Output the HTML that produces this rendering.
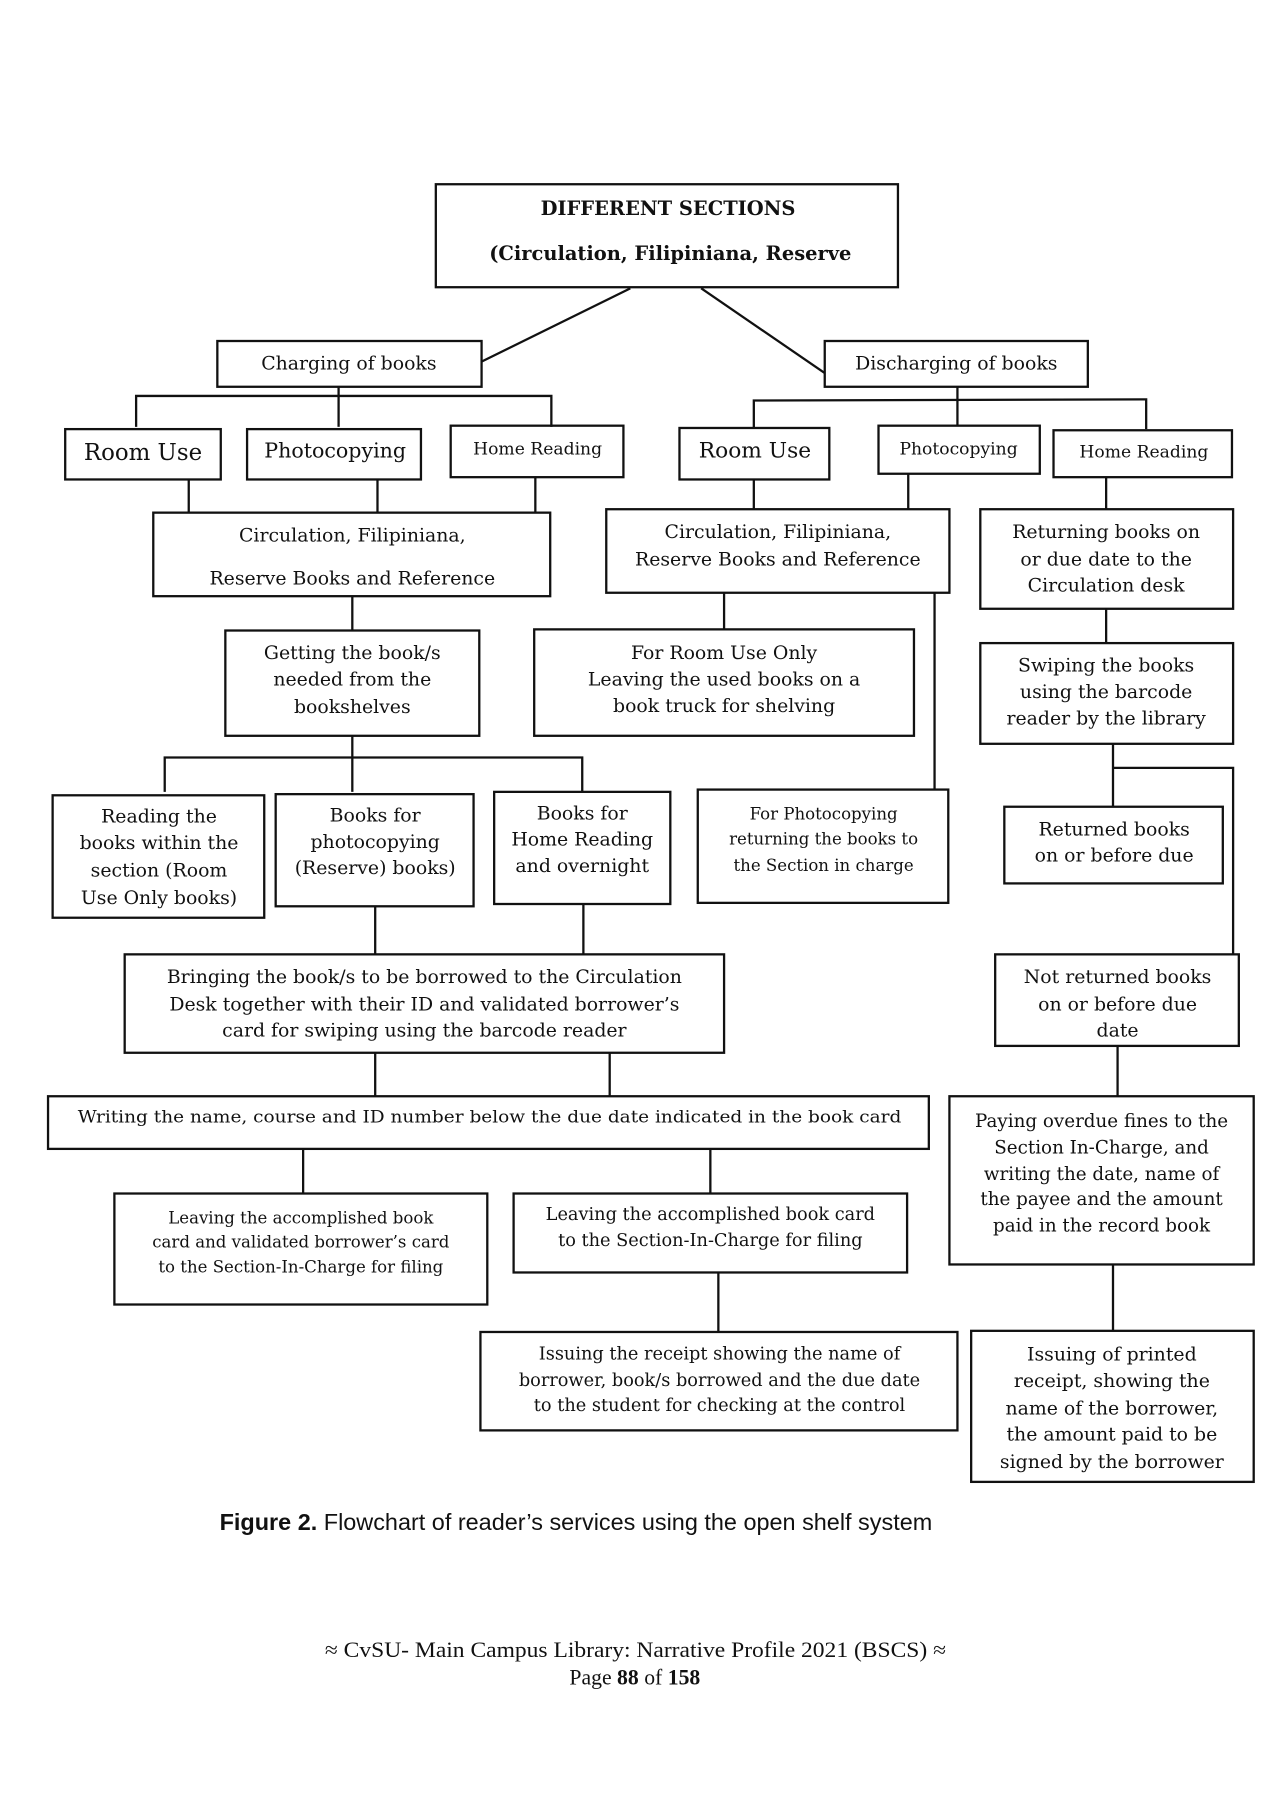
<!DOCTYPE html>
<html><head><meta charset="utf-8">
<style>
html,body{margin:0;padding:0;background:#fff;}
svg{display:block;}
.t{font-family:"DejaVu Serif","Liberation Serif",serif;font-size:16.5px;fill:#111;text-anchor:middle;}
.s{font-size:14.5px;}
.b{font-weight:bold;font-size:17px;}
rect{fill:none;stroke:#111;stroke-width:2;}
line,polyline{stroke:#111;stroke-width:2;fill:none;}
</style></head>
<body>
<svg width="1272" height="1800" viewBox="0 0 1112 1573" preserveAspectRatio="none" xmlns="http://www.w3.org/2000/svg">
<!-- top -->
<rect x="381" y="161" width="404" height="90"/>
<text class="t b" x="584" y="188">DIFFERENT SECTIONS</text>
<text class="t b" x="586" y="227">(Circulation, Filipiniana, Reserve</text>
<line x1="551" y1="252" x2="421" y2="316"/>
<line x1="613" y1="252" x2="721" y2="326"/>

<!-- charging -->
<rect x="190" y="298" width="231" height="40"/>
<text class="t" x="305" y="323">Charging of books</text>
<line x1="296" y1="338" x2="296" y2="373"/>
<polyline points="119,373 119,346 482,346 482,373"/>
<rect x="57" y="375" width="136" height="44"/>
<text class="t" style="font-size:20px" x="125" y="402">Room Use</text>
<rect x="216" y="375" width="152" height="44"/>
<text class="t" style="font-size:18px" x="293" y="400">Photocopying</text>
<rect x="394" y="372" width="151" height="45"/>
<text class="t" style="font-size:15px" x="470" y="397">Home Reading</text>
<line x1="165" y1="419" x2="165" y2="448"/>
<line x1="330" y1="419" x2="330" y2="448"/>
<line x1="468" y1="417" x2="468" y2="448"/>
<rect x="134" y="448" width="347" height="73"/>
<text class="t" x="308" y="473">Circulation, Filipiniana,</text>
<text class="t" x="308" y="511">Reserve Books and Reference</text>
<line x1="308" y1="521" x2="308" y2="551"/>
<rect x="197" y="551" width="222" height="92"/>
<text class="t" x="308" y="576">Getting the book/s</text>
<text class="t" x="308" y="599">needed from the</text>
<text class="t" x="308" y="623">bookshelves</text>
<line x1="308" y1="643" x2="308" y2="692"/>
<polyline points="144,692 144,662 509,662 509,692"/>
<rect x="46" y="695" width="185" height="107"/>
<text class="t" x="139" y="719">Reading the</text>
<text class="t" x="139" y="742">books within the</text>
<text class="t" x="139" y="766">section (Room</text>
<text class="t" x="139" y="790">Use Only books)</text>
<rect x="241" y="694" width="173" height="98"/>
<text class="t" x="328" y="718">Books for</text>
<text class="t" x="328" y="741">photocopying</text>
<text class="t" x="328" y="764">(Reserve) books)</text>
<rect x="432" y="692" width="154" height="98"/>
<text class="t" x="509" y="716">Books for</text>
<text class="t" x="509" y="739">Home Reading</text>
<text class="t" x="509" y="762">and overnight</text>
<line x1="328" y1="792" x2="328" y2="834"/>
<line x1="510" y1="790" x2="510" y2="834"/>
<rect x="109" y="834" width="524" height="86"/>
<text class="t" x="371" y="859">Bringing the book/s to be borrowed to the Circulation</text>
<text class="t" x="371" y="883">Desk together with their ID and validated borrower’s</text>
<text class="t" x="371" y="906">card for swiping using the barcode reader</text>
<line x1="328" y1="920" x2="328" y2="958"/>
<line x1="533" y1="920" x2="533" y2="958"/>
<rect x="42" y="958" width="770" height="46"/>
<text class="t s" x="428" y="981" textLength="720" lengthAdjust="spacingAndGlyphs">Writing the name, course and ID number below the due date indicated in the book card</text>
<line x1="265" y1="1004" x2="265" y2="1043"/>
<line x1="621" y1="1004" x2="621" y2="1043"/>
<rect x="100" y="1043" width="326" height="97"/>
<text class="t s" x="263" y="1069">Leaving the accomplished book</text>
<text class="t s" x="263" y="1090">card and validated borrower’s card</text>
<text class="t s" x="263" y="1112">to the Section-In-Charge for filing</text>
<rect x="449" y="1043" width="344" height="69"/>
<text class="t" style="font-size:15.5px" x="621" y="1066">Leaving the accomplished book card</text>
<text class="t" style="font-size:15.5px" x="621" y="1089">to the Section-In-Charge for filing</text>
<line x1="628" y1="1112" x2="628" y2="1164"/>
<rect x="420" y="1164" width="417" height="86"/>
<text class="t" style="font-size:15.5px" x="629" y="1188">Issuing the receipt showing the name of</text>
<text class="t" style="font-size:15.5px" x="629" y="1211">borrower, book/s borrowed and the due date</text>
<text class="t" style="font-size:15.5px" x="629" y="1233">to the student for checking at the control</text>

<!-- discharging -->
<rect x="721" y="298" width="230" height="40"/>
<text class="t" x="836" y="323">Discharging of books</text>
<line x1="837" y1="338" x2="837" y2="372"/>
<polyline points="659,374 659,350 1002,349 1002,375"/>
<rect x="594" y="374" width="131" height="45"/>
<text class="t" style="font-size:19px" x="660" y="400">Room Use</text>
<rect x="768" y="372" width="141" height="42"/>
<text class="t" style="font-size:15px" x="838" y="397">Photocopying</text>
<rect x="921" y="376" width="156" height="41"/>
<text class="t" style="font-size:15px" x="1000" y="400">Home Reading</text>
<line x1="659" y1="419" x2="659" y2="445"/>
<line x1="794" y1="414" x2="794" y2="445"/>
<line x1="967" y1="417" x2="967" y2="445"/>
<rect x="530" y="445" width="300" height="73"/>
<text class="t" x="680" y="470">Circulation, Filipiniana,</text>
<text class="t" x="680" y="494">Reserve Books and Reference</text>
<line x1="633" y1="518" x2="633" y2="550"/>
<line x1="817" y1="518" x2="817" y2="690"/>
<rect x="467" y="550" width="332" height="93"/>
<text class="t" x="633" y="576">For Room Use Only</text>
<text class="t" x="633" y="599">Leaving the used books on a</text>
<text class="t" x="633" y="622">book truck for shelving</text>
<rect x="610" y="690" width="219" height="99"/>
<text class="t s" x="720" y="716">For Photocopying</text>
<text class="t s" x="720" y="738">returning the books to</text>
<text class="t s" x="720" y="761">the Section in charge</text>
<rect x="857" y="445" width="221" height="87"/>
<text class="t" x="967" y="470">Returning books on</text>
<text class="t" x="967" y="494">or due date to the</text>
<text class="t" x="967" y="517">Circulation desk</text>
<line x1="967" y1="532" x2="967" y2="562"/>
<rect x="857" y="562" width="221" height="88"/>
<text class="t" x="967" y="587">Swiping the books</text>
<text class="t" x="967" y="610">using the barcode</text>
<text class="t" x="967" y="633">reader by the library</text>
<line x1="973" y1="650" x2="973" y2="705"/>
<polyline points="973,671 1078,671 1078,834"/>
<rect x="878" y="705" width="191" height="67"/>
<text class="t" x="974" y="730">Returned books</text>
<text class="t" x="974" y="753">on or before due</text>
<rect x="870" y="834" width="213" height="80"/>
<text class="t" x="977" y="859">Not returned books</text>
<text class="t" x="977" y="883">on or before due</text>
<text class="t" x="977" y="906">date</text>
<line x1="977" y1="914" x2="977" y2="958"/>
<rect x="830" y="958" width="266" height="147"/>
<text class="t" style="font-size:16px" x="963" y="985">Paying overdue fines to the</text>
<text class="t" style="font-size:16px" x="963" y="1008">Section In-Charge, and</text>
<text class="t" style="font-size:16px" x="963" y="1031">writing the date, name of</text>
<text class="t" style="font-size:16px" x="963" y="1053">the payee and the amount</text>
<text class="t" style="font-size:16px" x="963" y="1076">paid in the record book</text>
<line x1="973" y1="1105" x2="973" y2="1163"/>
<rect x="849" y="1163" width="247" height="132"/>
<text class="t" x="972" y="1189">Issuing of printed</text>
<text class="t" x="972" y="1212">receipt, showing the</text>
<text class="t" x="972" y="1236">name of the borrower,</text>
<text class="t" x="972" y="1259">the amount paid to be</text>
<text class="t" x="972" y="1283">signed by the borrower</text>

<!-- caption -->
<text x="192" y="1337" style="font-family:'Liberation Sans','DejaVu Sans',sans-serif;font-size:20px;fill:#111" textLength="623" lengthAdjust="spacingAndGlyphs"><tspan font-weight="bold">Figure 2.</tspan> Flowchart of reader’s services using the open shelf system</text>

<!-- footer -->
<text x="284" y="1448" style="font-family:'Liberation Serif',serif;font-size:19px;fill:#111" textLength="543" lengthAdjust="spacingAndGlyphs">≈ CvSU- Main Campus Library: Narrative Profile 2021 (BSCS) ≈</text>
<text x="555" y="1472" style="font-family:'Liberation Serif',serif;font-size:19px;fill:#111;text-anchor:middle">Page <tspan font-weight="bold">88</tspan> of <tspan font-weight="bold">158</tspan></text>
</svg>
</body></html>
